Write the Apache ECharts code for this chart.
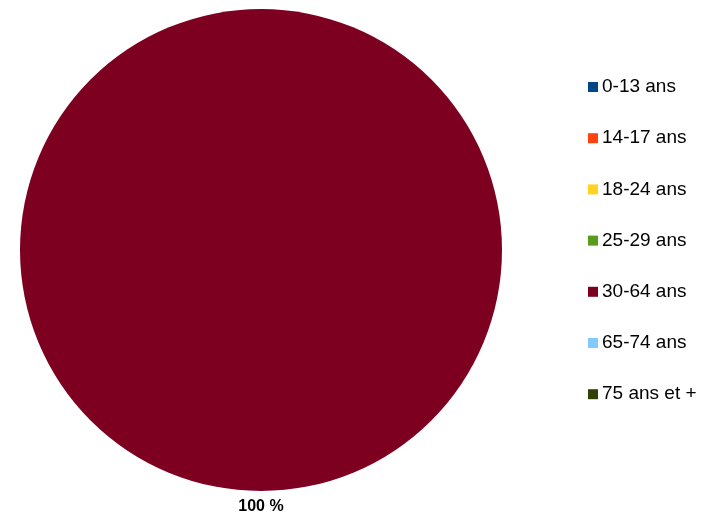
<!DOCTYPE html>
<html>
<head>
<meta charset="utf-8">
<script src="https://cdn.jsdelivr.net/npm/echarts@6/dist/echarts.min.js"></script>
<style>html,body{margin:0;padding:0;background:#fff}#c{width:715px;height:519px}</style>
</head>
<body>
<div id="c"></div>
<script>
const categories = ['0-13 ans','14-17 ans','18-24 ans','25-29 ans','30-64 ans','65-74 ans','75 ans et +'];
const values = [0, 0, 0, 0, 100, 0, 0];
const colors = ['#004586','#ff420e','#ffd320','#579d1c','#7e0021','#83caff','#314004'];

const chart = echarts.init(document.getElementById('c'));
chart.setOption({
  animation: false,
  color: colors,
  legend: {
    orient: 'vertical',
    left: 583,
    top: 72,
    itemWidth: 10,
    itemHeight: 10,
    itemGap: 31.2,
    icon: 'rect',
    textStyle: { fontFamily: 'Liberation Sans', fontSize: 19, lineHeight: 20, color: '#000', padding: [0,0,0,-1] },
    data: categories
  },
  series: [{
    type: 'pie',
    center: [261, 250],
    radius: [0, 241],
    startAngle: 90,
    clockwise: true,
    silent: true,
    data: categories.map((c, i) => ({
      name: c,
      value: values[i],
      label: { show: values[i] > 0 }
    })),
    label: {
      position: 'outside',
      formatter: p => p.value + ' %',
      fontFamily: 'Liberation Sans',
      fontWeight: 'bold',
      fontSize: 16,
      color: '#000'
    },
    labelLayout: { align: 'center', verticalAlign: 'middle', dx: 5 },
    labelLine: { show: false, length: 16, length2: 0 },
    itemStyle: { borderWidth: 0 }
  }]
});
</script>
</body>
</html>
